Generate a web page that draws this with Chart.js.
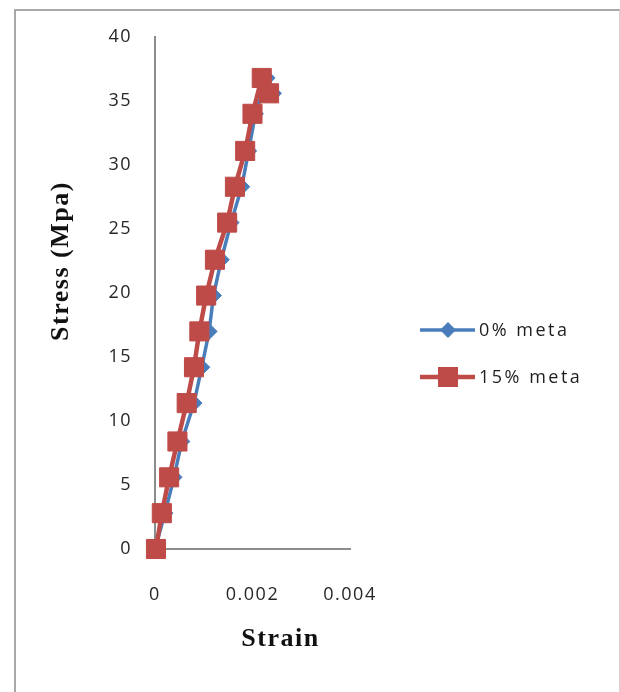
<!DOCTYPE html>
<html>
<head>
<meta charset="utf-8">
<script src="https://cdn.jsdelivr.net/npm/chart.js@4/dist/chart.umd.min.js"></script>
<style>
  html, body { margin:0; padding:0; background:#fff; width:620px; height:692px; overflow:hidden; }
  #frame { position:absolute; left:14px; top:9px; width:603px; height:720px;
           border-left:2px solid #a8a8a8; border-top:2px solid #a8a8a8; border-right:1px solid #d4d4d4; background:#fff; }
  #c { position:absolute; left:0; top:0; }
</style>
</head>
<body>
<div id="frame"></div>
<canvas id="c" width="620" height="692"></canvas>
<script>
// ---- data ----
const seriesNames = ['0% meta', '15% meta'];
const stress0  = [0, 2.8, 5.6, 8.4, 11.4, 14.2, 17.0, 19.8, 22.6, 25.5, 28.3, 31.1, 34.0, 36.8, 35.6];
const strain0  = [0, 0.000205, 0.00039, 0.00055, 0.00080, 0.00096, 0.00111, 0.00120, 0.00136, 0.00156, 0.00178, 0.00192, 0.00206, 0.00230, 0.00243];
const stress15 = [0, 2.8, 5.6, 8.4, 11.4, 14.2, 17.0, 19.8, 22.6, 25.5, 28.3, 31.1, 34.0, 36.8, 35.6];
const strain15 = [0.00002, 0.00014, 0.00029, 0.00046, 0.00065, 0.00080, 0.00091, 0.00105, 0.00123, 0.00148, 0.00164, 0.00185, 0.00200, 0.00219, 0.00234];
const xTicks = [0, 0.002, 0.004];
const yTicks = [0, 5, 10, 15, 20, 25, 30, 35, 40];
const xTitle = 'Strain';
const yTitle = 'Stress (Mpa)';

const toPts = (xs, ys) => xs.map((x, i) => ({x: x, y: ys[i]}));
const pad = n => '\u00a0'.repeat(n);

const BLUE = '#4a7ebb', RED = '#be4b48';
const tickFont = {family: 'Open Sans', size: 18};
const titleFont = {family: 'Liberation Serif', size: 26, weight: 'bold'};
const SPACING = '1.5px';

const spacingPlugin = {
  id: 'spacing',
  beforeDraw(chart) { chart.ctx.letterSpacing = SPACING; }
};

const legendPlugin = {
  id: 'customLegend',
  afterDraw(chart) {
    const ctx = chart.ctx;
    const rows = [330, 377];
    ctx.save();
    ctx.letterSpacing = '2.5px';
    chart.data.datasets.forEach((ds, i) => {
      const y = rows[i];
      ctx.strokeStyle = ds.borderColor;
      ctx.lineWidth = ds.borderWidth;
      ctx.beginPath(); ctx.moveTo(420, y); ctx.lineTo(475, y); ctx.stroke();
      ctx.fillStyle = ds.borderColor;
      const cx = 448;
      if (ds.pointStyle === 'rect') {
        ctx.fillRect(cx - 10, y - 10, 20, 20);
      } else {
        ctx.beginPath();
        ctx.moveTo(cx, y - 8); ctx.lineTo(cx + 8, y); ctx.lineTo(cx, y + 8); ctx.lineTo(cx - 8, y);
        ctx.closePath(); ctx.fill();
      }
      ctx.fillStyle = '#1e1e1e';
      ctx.font = '18px "Open Sans"';
      ctx.textBaseline = 'middle';
      ctx.textAlign = 'left';
      ctx.fillText(ds.label, 479, y + 1);
    });
    ctx.restore();
  }
};

new Chart(document.getElementById('c'), {
  type: 'scatter',
  data: {
    datasets: [
      { label: seriesNames[0], data: toPts(strain0, stress0), showLine: true, tension: 0,
        borderColor: BLUE, backgroundColor: BLUE, borderWidth: 3.5,
        pointStyle: 'rectRot', pointRadius: 8, pointBackgroundColor: BLUE, pointBorderColor: BLUE, pointBorderWidth: 1,
        clip: false, order: 1 },
      { label: seriesNames[1], data: toPts(strain15, stress15), showLine: true, tension: 0,
        borderColor: RED, backgroundColor: RED, borderWidth: 4.5,
        pointStyle: 'rect', pointRadius: 13.5, pointBackgroundColor: RED, pointBorderColor: RED, pointBorderWidth: 1,
        clip: false, order: 0 }
    ]
  },
  options: {
    responsive: false,
    animation: false,
    events: [],
    layout: { padding: { left: 40, top: 37, right: 270, bottom: 30 } },
    plugins: { legend: { display: false }, tooltip: { enabled: false } },
    scales: {
      x: {
        type: 'linear', min: xTicks[0], max: xTicks[xTicks.length - 1],
        afterBuildTicks: s => { s.ticks = xTicks.map(v => ({value: v})); },
        ticks: { padding: 27, font: tickFont, color: '#262626', maxRotation: 0,
                 callback: v => String(+Number(v).toFixed(3)) },
        grid: { display: false },
        border: { display: true, color: '#8c8c8c', width: 2 },
        title: { display: true, text: pad(7) + xTitle, font: titleFont, color: '#111', padding: { top: 0, bottom: 7 } },
        afterFit: s => { s.height = 113; }
      },
      y: {
        type: 'linear', min: yTicks[0], max: yTicks[yTicks.length - 1],
        afterBuildTicks: s => { s.ticks = yTicks.map(v => ({value: v})); },
        ticks: { padding: 15, font: tickFont, color: '#262626' },
        grid: { display: false },
        border: { display: true, color: '#8c8c8c', width: 2 },
        title: { display: true, text: pad(8) + yTitle, font: titleFont, color: '#111', padding: { top: 6, bottom: 0 } },
        afterFit: s => { s.width = 115; }
      }
    }
  },
  plugins: [spacingPlugin, legendPlugin]
});
</script>
</body>
</html>
